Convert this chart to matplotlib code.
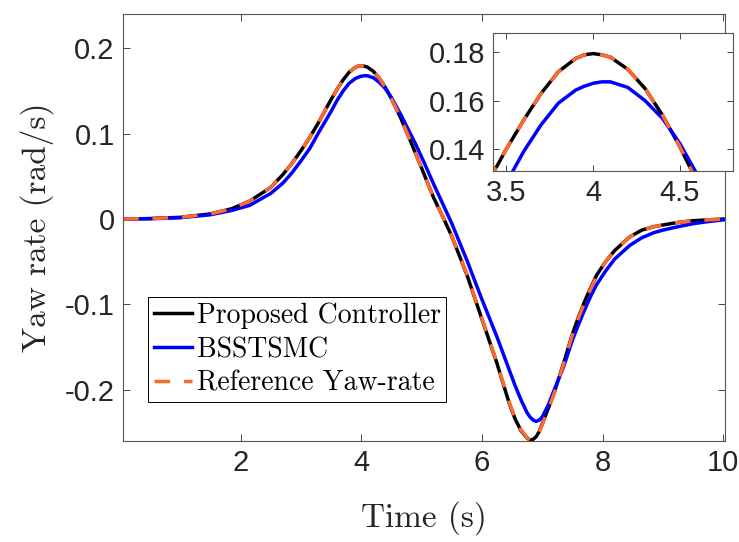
import matplotlib
matplotlib.use("Agg")
import matplotlib.pyplot as plt

# values
time = [0.05, 0.5, 1.0, 1.5, 1.85, 2.15, 2.5, 2.7, 2.85, 3.0, 3.15, 3.3, 3.5, 3.6,
        3.7, 3.8, 3.9, 3.95, 4.0, 4.05, 4.1, 4.2, 4.3, 4.4, 4.5, 4.65, 4.8, 4.9,
        5.05, 5.2, 5.35, 5.5, 5.75, 6.0, 6.25, 6.45, 6.55, 6.65, 6.75, 6.8, 6.85,
        6.9, 6.95, 7.0, 7.1, 7.2, 7.35, 7.5, 7.6, 7.7, 7.8, 7.9, 8.05, 8.2, 8.45,
        8.65, 8.85, 9.0, 9.25, 9.5, 9.75, 10.0]

reference = [0.000, 0.0005, 0.002, 0.006, 0.012, 0.021, 0.037, 0.052, 0.065, 0.080,
             0.096, 0.114, 0.140, 0.152, 0.163, 0.172, 0.1775, 0.179, 0.1795, 0.179,
             0.178, 0.173, 0.165, 0.154, 0.141, 0.119, 0.094, 0.077, 0.051, 0.025,
             0.003, -0.020, -0.064, -0.116, -0.168, -0.214, -0.233, -0.247, -0.256,
             -0.259, -0.2585, -0.2555, -0.250, -0.241, -0.223, -0.204, -0.171, -0.136,
             -0.116, -0.098, -0.082, -0.067, -0.050, -0.037, -0.021, -0.013, -0.009,
             -0.007, -0.004, -0.002, -0.001, 0.000]

proposed = [0.000, 0.0005, 0.002, 0.006, 0.012, 0.021, 0.037, 0.052, 0.065, 0.080,
            0.096, 0.114, 0.140, 0.152, 0.163, 0.172, 0.1775, 0.179, 0.1795, 0.179,
            0.178, 0.173, 0.165, 0.154, 0.141, 0.119, 0.094, 0.077, 0.051, 0.025,
            0.003, -0.020, -0.065, -0.117, -0.169, -0.215, -0.234, -0.248, -0.2565,
            -0.259, -0.258, -0.255, -0.249, -0.240, -0.222, -0.203, -0.170, -0.135,
            -0.115, -0.097, -0.081, -0.066, -0.050, -0.037, -0.021, -0.013, -0.009,
            -0.007, -0.004, -0.002, -0.001, 0.000]

bsstsmc = [0.000, 0.0004, 0.0015, 0.005, 0.010, 0.016, 0.030, 0.042, 0.054, 0.068,
           0.083, 0.102, 0.126, 0.139, 0.150, 0.159, 0.1644, 0.166, 0.1672, 0.1678,
           0.1678, 0.1655, 0.160, 0.1527, 0.1423, 0.123, 0.102, 0.088, 0.065, 0.041,
           0.018, -0.005, -0.048, -0.094, -0.138, -0.176, -0.195, -0.212, -0.227,
           -0.232, -0.2355, -0.237, -0.2355, -0.232, -0.218, -0.200, -0.174, -0.142,
           -0.124, -0.107, -0.091, -0.077, -0.061, -0.047, -0.031, -0.022, -0.016,
           -0.013, -0.009, -0.0055, -0.003, -0.001]

labels = ["Proposed Controller", "BSSTSMC", "Reference Yaw-rate"]
main_yticks = [-0.2, -0.1, 0, 0.1, 0.2]
main_ylabels = ["-0.2", "-0.1", "0", "0.1", "0.2"]
main_xticks = [2, 4, 6, 8, 10]
inset_xticks = [3.5, 4, 4.5]
inset_yticks = [0.14, 0.16, 0.18]

serif = "cmr10"
sans = "Liberation Sans"
ink = "#262626"
orange = "#FF6A2C"


def draw_lines(ax):
    ax.plot(time, proposed, color="black", lw=2.5, label=labels[0])
    ax.plot(time, bsstsmc, color="#0000FF", lw=2.5, label=labels[1])
    ax.plot(time, reference, color=orange, lw=2.5, ls=(0, (4.5, 4)), label=labels[2])


def style_axes(ax, ticklen):
    ax.tick_params(direction="in", top=True, right=True, length=ticklen, width=0.6,
                   colors=ink, labelsize=21, pad=6)
    for lab in ax.get_xticklabels() + ax.get_yticklabels():
        lab.set_fontfamily(sans)
    for s in ax.spines.values():
        s.set_color("#555555")
        s.set_linewidth(0.8)


fig = plt.figure(figsize=(7.39, 5.42), dpi=100)
ax = fig.add_axes([0.1664, 0.1863, 0.8146, 0.7877])
draw_lines(ax)
ax.set_xlim(0.05, 10.03)
ax.set_ylim(-0.26, 0.24)
ax.set_xticks(main_xticks)
ax.set_yticks(main_yticks)
ax.set_yticklabels(main_ylabels)
style_axes(ax, 5)
ax.set_xlabel("Time (s)", fontfamily=serif, fontsize=24, color=ink, labelpad=17)
ax.set_ylabel("Yaw rate (rad/s)", fontfamily=serif, fontsize=24, color=ink, labelpad=8)

leg = ax.legend(loc="upper left", bbox_to_anchor=(0.0415, 0.337), borderaxespad=0,
                prop={"family": serif, "size": 20}, handlelength=1.4, handletextpad=0.15,
                labelspacing=0.27, borderpad=0.2, fancybox=False, framealpha=1)
leg.get_frame().set_edgecolor("black")
leg.get_frame().set_linewidth(0.7)

ins = fig.add_axes([0.6676, 0.6845, 0.3239, 0.2541])
draw_lines(ins)
ins.set_xlim(3.425, 4.805)
ins.set_ylim(0.1309, 0.1879)
ins.set_xticks(inset_xticks)
ins.set_xticklabels(["3.5", "4", "4.5"])
ins.set_yticks(inset_yticks)
ins.set_yticklabels(["0.14", "0.16", "0.18"])
style_axes(ins, 4)

fig.savefig("out.png", dpi=100)
